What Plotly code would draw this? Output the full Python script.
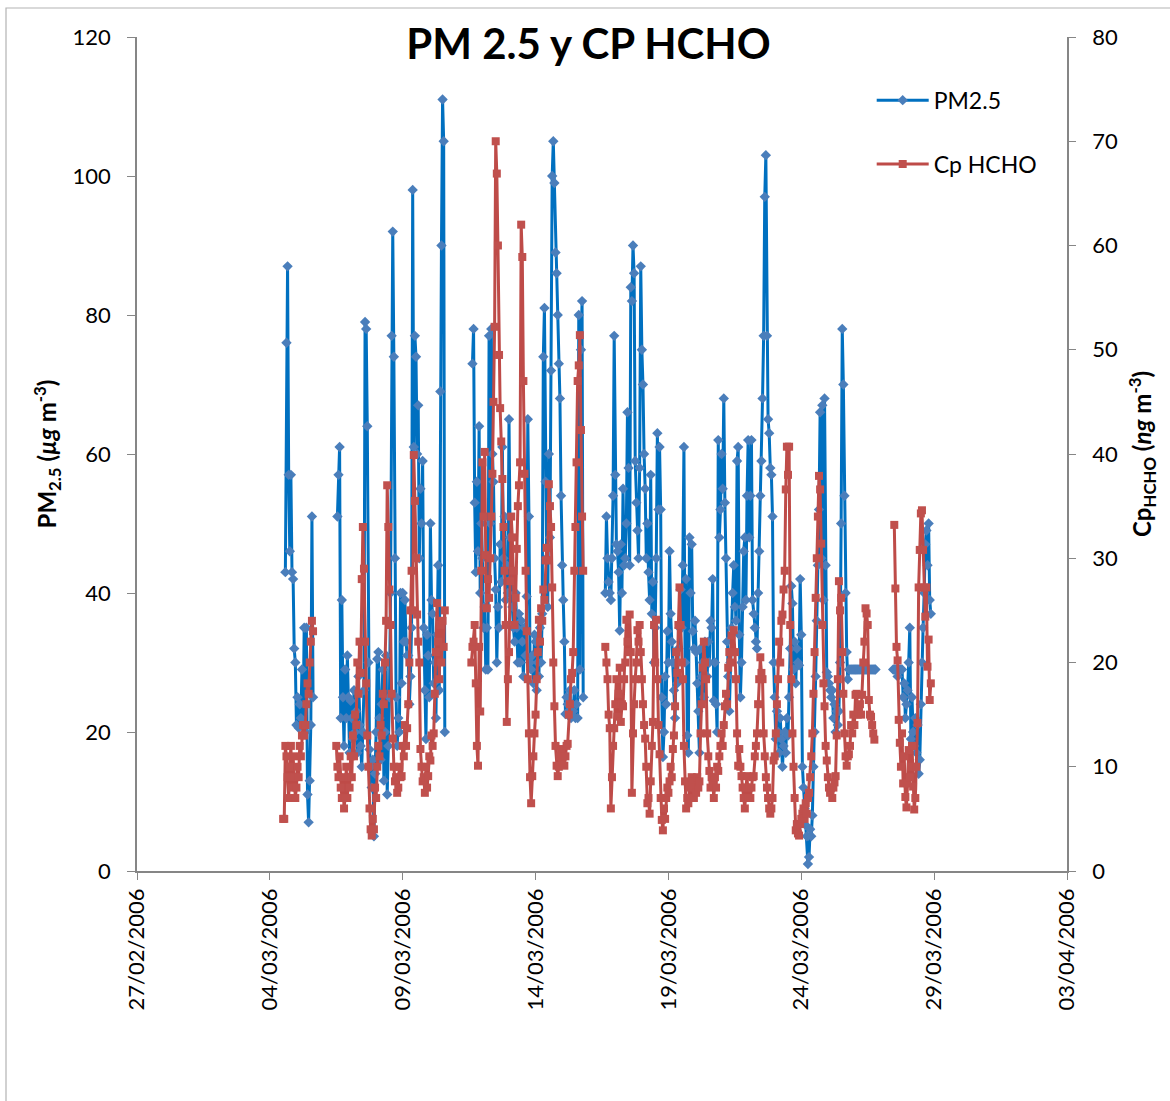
import pandas as pd
import plotly.graph_objects as go

# ---------------- data (hourly records, gaps between segments) ----------------
pm_starts = ["2006-03-04 14:00", "2006-03-06 13:00", "2006-03-11 15:00",
             "2006-03-16 15:00", "2006-03-27 11:00"]

pm_a = [43, 76, 87, 57, 46, 57, 43, 42, 32, 30, 21, 25, 20.6, 24, 22, 29, 21, 35, 20, 35,
        11, 7, 13, 21, 51, 25]

pm_b = [51, 57, 61, 22, 39, 25, 18, 29, 22, 31,
        25, 17, 24.5, 22, 19, 26, 20, 23, 17, 28,
        21, 18, 15, 20, 26, 79, 78, 64, 30, 17.5,
        15, 12, 16, 5, 14, 20, 30.5, 31.5, 22, 16,
        24, 29, 13, 20, 31, 11, 18, 25, 40, 77,
        92, 74, 45, 25, 18, 22, 20, 40, 27, 40,
        33, 39, 33, 31, 31, 24, 28, 35, 98, 61,
        77, 74, 60, 67, 45, 55, 50, 59, 35, 26,
        19, 34, 31, 25, 50, 39, 37, 27, 30, 22,
        34, 44, 26, 69, 90, 111, 105, 20]

pm_c = [73, 78, 53, 43, 56, 46, 64, 40, 50, 45,
        35, 38, 29, 35, 29, 77, 50, 78, 60, 56,
        45, 40.5, 30, 38, 35, 47, 41.6, 61, 45, 51,
        39, 44, 40, 65, 48, 42, 38, 35, 33, 40,
        35, 30, 37, 30, 36, 33, 28, 35, 31, 39.5,
        65, 51, 30, 29, 31, 27, 34, 33, 26, 30,
        28, 35, 30, 37, 74, 81, 56, 45, 38, 60,
        48, 72, 100, 105, 99, 89, 86, 80, 73, 68,
        54, 44, 39, 33, 22.6, 25, 24, 23, 26, 22,
        24, 23, 26, 22, 24, 22, 80, 29, 75, 82,
        25]

pm_d = [40, 51, 45, 41.6, 40, 39, 45, 54, 77, 57,
        47, 46, 43, 34.6, 47, 40, 55, 44, 45, 50,
        66, 58, 44, 84, 82, 90, 86, 59, 53, 49,
        45, 58, 87, 75, 70, 60, 55, 45, 50, 43,
        39, 57, 37, 41.6, 30, 35, 45, 63, 52, 61,
        52, 25, 16.4, 20, 28, 24, 34.5, 30, 46, 37,
        33, 30, 26, 22, 30, 27, 32, 35, 40.5, 35,
        44, 61, 30, 42, 19.5, 17, 48, 40, 47, 34.5,
        32, 36, 31.5, 27, 23, 17, 32, 28, 30, 25,
        33, 30, 28, 33, 30, 36, 35, 42, 24.5, 30,
        24, 20, 62, 48, 52, 60, 55, 68, 53, 45,
        33, 28, 23, 30, 35, 40, 44, 38, 36, 59,
        61, 34, 25, 30, 38, 46, 48, 39, 54, 62,
        48, 54, 62, 39, 37, 35, 33, 32, 40, 46,
        54, 59, 68, 77, 97, 103, 77, 65, 63, 58,
        57, 51, 30, 25, 19, 23, 20, 17, 22, 19,
        15, 18, 20, 17, 22, 19.5, 25, 32, 41, 38.5,
        29, 33, 27, 32, 30, 29.6, 42, 34, 15, 12,
        9, 6.6, 5, 1, 2, 6, 5, 8, 15, 20,
        28, 36, 44, 52, 66, 45, 67, 39, 68, 44,
        28.6, 28, 27, 26, 25, 26, 22, 24, 20, 23,
        21, 23, 30, 50, 78, 70, 54, 40, 31.5, 27.6,
        29, 29, 29, 29, 29, 29, 29, 29, 29, 29,
        29, 29, 29, 29, 29, 29, 29, 29, 29, 29,
        29, 29, 29, 29, 29]

pm_e = [29, 29, 29, 29, 28, 29, 29, 29, 29, 25,
        27, 22, 24, 26, 30, 35, 19, 25, 20, 18,
        22, 17, 21, 14, 16, 24, 30, 35, 40, 47,
        49, 44, 50, 39, 37]

hcho_starts = ["2006-03-04 12:00", "2006-03-06 12:00", "2006-03-11 14:00",
               "2006-03-16 15:00", "2006-03-27 12:00"]

hcho_a = [5, 5, 12, 11, 9, 7, 10, 12, 8, 11, 9, 7, 8, 10, 9, 12, 11, 13, 14, 13,
          14, 16, 18, 17, 20, 22, 24, 23]

hcho_b = [12, 10, 9, 11, 8, 7, 9, 6, 7, 10,
          7, 9, 8, 11, 9, 13, 11, 15, 14, 20,
          17, 22, 19, 28, 33, 29, 22, 18, 13, 10,
          6, 4, 3.4, 5, 4, 8, 7, 10, 12, 11,
          14, 13, 17, 16, 20, 24, 37, 33, 27, 23.6,
          17, 12.7, 10, 8.6, 9, 7.5, 8, 10, 9, 9.1,
          12, 11, 14, 12, 13.7, 16, 20, 25, 28.8, 25,
          39.9, 35.5, 30, 24.6, 22, 20, 11.7, 10, 8.6, 9,
          7.5, 10, 8, 9.1, 11, 10.6, 13, 12, 13.2, 17,
          21, 25.7, 22, 18.4, 23.6, 20, 24, 21.5, 25]

hcho_c = [20, 21.5, 22, 23.6, 18, 12, 10.1, 21.5, 15.3, 28.8,
          39.2, 34, 40.2, 30.3, 25.2, 28, 26.2, 30, 34, 38.1,
          45, 52.2, 70, 66.9, 60, 49.5, 44.4, 41.2, 37.6, 33,
          28.8, 23.6, 14.3, 18.4, 21, 27.8, 34, 32, 28.8, 23.6,
          26.2, 30.9, 35, 37, 39.2, 62, 58.9, 47, 38.1, 28.8,
          23, 18.4, 13.2, 9, 6.5, 9.1, 11, 13.2, 15, 18.4,
          21, 24.1, 22, 25.2, 24, 27, 26, 29.8, 31, 29.8,
          37.1, 35, 33, 27.2, 20, 15.8, 12, 10.1, 9.1, 10,
          11, 11.7, 10.5, 11, 10.1, 11, 12, 12.2, 15, 16,
          18.4, 19, 21, 28.8, 33, 39.2, 47, 48.5, 51.4, 42.3,
          34, 28.8]

hcho_d = [21.5, 20, 18.4, 15, 13.7, 6, 9, 12, 13.7, 16,
          18.4, 14.8, 17, 19.5, 14.3, 16, 15.8, 18.4, 20, 24.1,
          22, 21, 24.6, 21, 7.5, 13.2, 16, 18.4, 20, 23.1,
          22, 23.6, 21, 18.4, 16, 14, 12.7, 10, 6.5, 7,
          5.5, 8.6, 12, 14.3, 23.6, 20, 24.1, 18.4, 14, 11.2,
          7, 4.9, 3.9, 6, 5, 7, 8, 7.5, 8.6, 10,
          9, 11.7, 13, 15.8, 21, 19, 23.6, 27.2, 23.6, 20,
          18.4, 12, 8.6, 6, 7, 6.5, 8, 7, 9, 8.6,
          7, 8, 7.5, 9, 8, 8.6, 13.2, 16, 19.5, 22,
          20, 18.4, 13.2, 11, 9.6, 8, 9, 8.6, 7, 9,
          8, 10, 9.6, 11, 12, 13.2, 12, 14, 15.8, 17,
          16, 19.5, 21, 20, 22.6, 21, 23.1, 21, 18.4, 13.2,
          10.1, 11.7, 10, 9.1, 8, 7, 6, 8, 9.1, 7,
          8, 7, 8, 9, 9.1, 11, 12, 13.2, 16, 18.4,
          20.5, 19, 18.4, 13.2, 11, 9, 8, 7, 6, 5.5,
          6, 7, 10.6, 11, 13.2, 16, 18.4, 22, 20, 24,
          24.6, 27, 28.8, 36.6, 40.7, 38, 40.7, 23.6, 18.4, 13.2,
          10, 7, 3.9, 4.5, 3.6, 3.4, 4.5, 5, 5.5, 6,
          5, 6.5, 5.5, 7, 7.5, 9, 11, 13.2, 17, 21,
          26.2, 30, 34, 37.9, 36.6, 31.4, 23.6, 18, 15.8, 12,
          10.6, 9, 8, 7.5, 8, 7, 8, 8.5, 9.1, 13,
          18.4, 27.8, 25, 26.2, 21, 17, 13.2, 11, 10.1, 11,
          11.2, 12, 14, 13.2, 15, 14, 16.9, 17, 15, 15.3,
          16, 15, 16.9, 20, 22, 25.2, 24.7, 23.6, 16.4, 15,
          14.8, 14, 13.2, 12.6]

hcho_e = [33.2, 27.1, 21.5, 20.2, 14.5, 12.3, 10, 13.2, 8.4, 11,
          7.1, 6.1, 8.4, 11.6, 9, 10, 12, 8.1, 5.9, 7,
          10, 14.2, 27.2, 30.8, 34.3, 34.6, 30.8, 27.2, 24.4, 27.2,
          19.6, 22.2, 16.4, 18]

x_ticks = ["2006-02-27", "2006-03-04", "2006-03-09", "2006-03-14",
           "2006-03-19", "2006-03-24", "2006-03-29", "2006-04-03"]
x_ticktext = ["27/02/2006", "04/03/2006", "09/03/2006", "14/03/2006",
              "19/03/2006", "24/03/2006", "29/03/2006", "03/04/2006"]


def build(starts, segs):
    xs, ys = [], []
    for s, v in zip(starts, segs):
        t = pd.date_range(s, periods=len(v), freq="h")
        xs += list(t) + [None]
        ys += list(v) + [None]
    return xs, ys


pm_x, pm_y = build(pm_starts, [pm_a, pm_b, pm_c, pm_d, pm_e])
hc_x, hc_y = build(hcho_starts, [hcho_a, hcho_b, hcho_c, hcho_d, hcho_e])

FONT = "Lato, 'Open Sans', sans-serif"
AX = "#868686"

fig = go.Figure()
fig.add_trace(go.Scatter(
    x=pm_x, y=pm_y, name="PM2.5", mode="lines+markers", connectgaps=False,
    line=dict(color="#0070C0", width=3),
    marker=dict(symbol="diamond", size=8, color="#4A7EBB"),
    legendgroup="pm"))
fig.add_trace(go.Scatter(
    x=hc_x, y=hc_y, name="Cp HCHO", mode="lines+markers", connectgaps=False,
    yaxis="y2",
    line=dict(color="#BE4B48", width=3),
    marker=dict(symbol="square", size=8, color="#C0504D"),
    legendgroup="hc"))

fig.update_layout(
    width=1170, height=1101, autosize=False,
    margin=dict(l=137, r=103, t=37, b=230),
    paper_bgcolor="white", plot_bgcolor="white",
    font=dict(family=FONT, size=22, color="black"),
    title=dict(text="<b>PM 2.5 y CP HCHO</b>", x=0.503, xanchor="center",
               y=1 - 44 / 1101, yanchor="middle", font=dict(size=42, family=FONT)),
    xaxis=dict(type="date", range=["2006-02-27", "2006-04-03"],
               tickmode="array", tickvals=x_ticks, ticktext=x_ticktext,
               tickangle=-90, ticks="outside", ticklen=7, tickcolor=AX,
               showline=True, linecolor=AX, linewidth=1.5,
               showgrid=False, zeroline=False, tickfont=dict(size=22)),
    yaxis=dict(range=[0, 120], dtick=20, tick0=0, ticks="outside", ticklen=8,
               tickcolor=AX, showline=True, linecolor=AX, linewidth=1.5,
               showgrid=False, zeroline=False, tickfont=dict(size=22),
               ticklabelstandoff=12,
               title=dict(text="<b>PM<sub>2.5</sub> (<i>µg</i> m<sup>-3</sup>)</b>",
                          font=dict(size=24), standoff=9)),
    yaxis2=dict(range=[0, 80], dtick=10, tick0=0, overlaying="y", side="right",
                ticks="outside", ticklen=7, tickcolor=AX, showline=True,
                linecolor=AX, linewidth=1.5, showgrid=False, zeroline=False,
                tickfont=dict(size=22), ticklabelstandoff=12,
                title=dict(text="<b>Cp<sub>HCHO</sub> (<i>ng</i> m<sup>-3</sup>)</b>",
                           font=dict(size=24), standoff=17)),
    legend=dict(x=0.79, y=0.95, xanchor="left", yanchor="top",
                bgcolor="rgba(0,0,0,0)", font=dict(size=23),
                tracegroupgap=31, itemwidth=52),
    shapes=[dict(type="rect", xref="paper", yref="paper",
                 x0=(6 - 137) / 930, x1=1.2, y0=-0.4, y1=(871 - 8) / 834,
                 line=dict(color="#b3b3b3", width=1.2), fillcolor="rgba(0,0,0,0)",
                 layer="below")],
)

fig.write_html("out.html")
